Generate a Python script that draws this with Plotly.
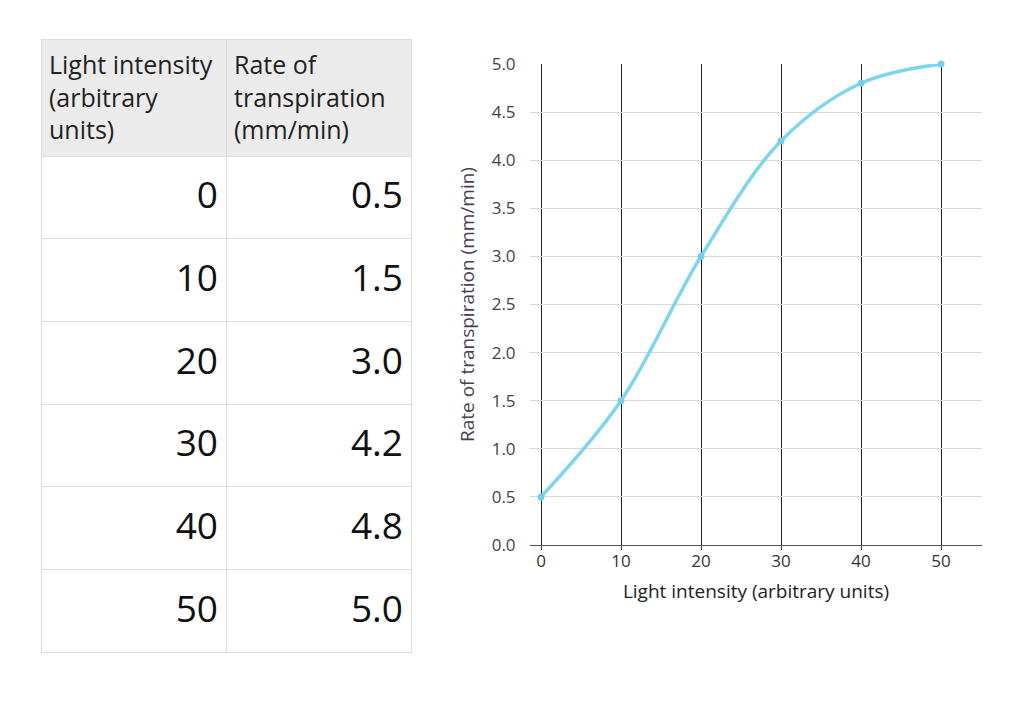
import plotly.graph_objects as go

light = [0, 10, 20, 30, 40, 50]
rate = [0.5, 1.5, 3.0, 4.2, 4.8, 5.0]
rate_labels = ["0.5", "1.5", "3.0", "4.2", "4.8", "5.0"]
header_labels = ["Light intensity<br>(arbitrary<br>units)", "Rate of<br>transpiration<br>(mm/min)"]
x_title = "Light intensity (arbitrary units)"
y_title = "Rate of transpiration (mm/min)"

W, H = 1024, 724
OX, OY = 8, 8  # page offset of the plot div inside the browser
FONT = "Open Sans"


def px_x(a, b):
    return [(a - OX) / W, (b - OX) / W]


def px_y(top, bottom):
    return [1 - (bottom - OY) / H, 1 - (top - OY) / H]


def cell_text(v, n=2):
    return "\u00a0<br>" * n + "<span style='font-size:37px'>" + v + "</span>"


fig = go.Figure()

fig.add_trace(go.Table(
    domain=dict(x=px_x(41, 411), y=px_y(39, 653)),
    columnwidth=[1, 1],
    header=dict(
        values=header_labels,
        fill_color="#ebebeb",
        line_color="#dcdcdc",
        align="left",
        height=117,
        font=dict(family=FONT, size=25, color="#222222"),
    ),
    cells=dict(
        values=[[cell_text(str(v)) for v in light], [cell_text(s) for s in rate_labels]],
        fill_color="white",
        line_color="#dcdcdc",
        align="right",
        height=82.7,
        font=dict(family=FONT, size=12, color="#111111"),
    ),
))

fig.add_trace(go.Scatter(
    x=light, y=rate,
    mode="lines+markers",
    line=dict(color="#7dd6f0", width=3.5, shape="spline", smoothing=1.0),
    marker=dict(color="#72d0ec", size=7),
    showlegend=False,
    cliponaxis=False,
))

fig.update_layout(
    width=W, height=H,
    margin=dict(l=0, r=0, t=0, b=0, autoexpand=False),
    paper_bgcolor="white",
    plot_bgcolor="white",
    xaxis=dict(
        domain=px_x(530, 982),
        range=[-1.375, 55.125],
        tickvals=light,
        ticktext=[str(v) for v in light],
        showgrid=True, gridcolor="#222222", gridwidth=1,
        zeroline=False,
        showline=True, linecolor="#555555", linewidth=1,
        ticks="outside", ticklen=4, tickcolor="#444444",
        ticklabelstandoff=-3,
        tickfont=dict(family=FONT, size=17, color="#333333"),
        title=dict(text=x_title, font=dict(family=FONT, size=19, color="#222222"), standoff=13),
        automargin=False,
    ),
    yaxis=dict(
        domain=px_y(64, 545),
        range=[0, 5],
        tickvals=[i * 0.5 for i in range(11)],
        tickformat=".1f",
        showgrid=True, gridcolor="#d9d9d9", gridwidth=1,
        zeroline=False,
        showline=False,
        ticks="outside", ticklen=10, tickcolor="rgba(0,0,0,0)",
        tickfont=dict(family=FONT, size=17, color="#444444"),
        title=dict(text=y_title, font=dict(family=FONT, size=19, color="#4a3f4f"), standoff=12),
        automargin=False,
    ),
)

fig.write_html("out.html")
